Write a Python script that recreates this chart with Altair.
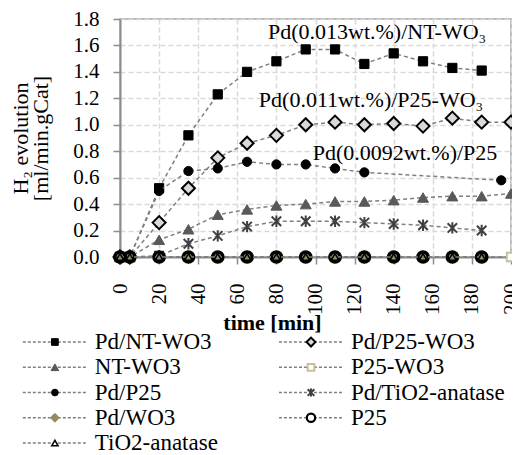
import altair as alt
import pandas as pd

# ---------------- data ----------------
TIME_FULL = [0, 5, 20, 35, 50, 65, 80, 95, 110, 125, 140, 155, 170, 185, 200]
TIME_185 = [0, 5, 20, 35, 50, 65, 80, 95, 110, 125, 140, 155, 170, 185]
TIME_PD_P25 = [0, 5, 20, 35, 50, 65, 80, 95, 110, 125, 195]

SERIES = ["Pd/NT-WO3", "Pd/P25-WO3", "NT-WO3", "P25-WO3", "Pd/P25",
          "Pd/TiO2-anatase", "Pd/WO3", "P25", "TiO2-anatase"]

V_PD_NTWO3 = [0, 0, 0.52, 0.92, 1.23, 1.40, 1.48, 1.57, 1.57, 1.46, 1.54, 1.48, 1.43, 1.41]
V_PD_P25WO3 = [0, 0, 0.26, 0.52, 0.75, 0.86, 0.92, 1.00, 1.02, 1.00, 1.01, 0.99, 1.05, 1.02, 1.02]
V_NTWO3 = [0, 0, 0.13, 0.21, 0.32, 0.36, 0.39, 0.40, 0.42, 0.42, 0.43, 0.45, 0.46, 0.46, 0.48]
V_P25WO3 = [0, 0, 0, 0, 0, 0, 0, 0, 0, 0, 0, 0, 0, 0, 0]
V_PD_P25 = [0, 0, 0.50, 0.65, 0.67, 0.72, 0.70, 0.70, 0.67, 0.64, 0.58]
V_PD_TIO2 = [0, 0, 0.01, 0.10, 0.16, 0.23, 0.27, 0.27, 0.27, 0.26, 0.25, 0.24, 0.22, 0.20]
V_PD_WO3 = [0, 0, 0, 0, 0, 0, 0, 0, 0, 0, 0, 0, 0, 0]
V_P25 = [0, 0, 0, 0, 0, 0, 0, 0, 0, 0, 0, 0, 0, 0]
V_TIO2 = [0, 0, 0, 0, 0, 0, 0, 0, 0, 0, 0, 0, 0, 0]

SERIES_DATA = {
    "Pd/NT-WO3": (TIME_185, V_PD_NTWO3),
    "Pd/P25-WO3": (TIME_FULL, V_PD_P25WO3),
    "NT-WO3": (TIME_FULL, V_NTWO3),
    "P25-WO3": (TIME_FULL, V_P25WO3),
    "Pd/P25": (TIME_PD_P25, V_PD_P25),
    "Pd/TiO2-anatase": (TIME_185, V_PD_TIO2),
    "Pd/WO3": (TIME_185, V_PD_WO3),
    "P25": (TIME_185, V_P25),
    "TiO2-anatase": (TIME_185, V_TIO2),
}

ANN_TEXT = ["Pd(0.013wt.%)/NT-WO\u2083", "Pd(0.011wt.%)/P25-WO\u2083", "Pd(0.0092wt.%)/P25"]
ANN_X = [131.5, 128.4, 145.8]
ANN_Y = [1.70, 1.19, 0.79]

LEG_COL = [0, 1, 0, 1, 0, 1, 0, 1, 0]
LEG_ROW = [0, 0, 1, 1, 2, 2, 3, 3, 4]

X_TICKS = [0, 20, 40, 60, 80, 100, 120, 140, 160, 180, 200]
Y_TICKS = [0.0, 0.2, 0.4, 0.6, 0.8, 1.0, 1.2, 1.4, 1.6, 1.8]

# legend layout (in the chart's own axis units, below the plot area)
LEG_X0, LEG_DX = -33.3, 131.0       # symbol centre of column 0, column step (minutes)
LEG_HALF, LEG_TXT = 16.4, 20.4      # half line length, text offset (minutes)
LEG_Y0, LEG_DY = -0.643, -0.191     # row 0 centre, row step (axis units)

# ---------------- styles ----------------
ASTERISK = "M-1,-1L1,1M-1,1L1,-1M0,-1.2L0,1.2"
STYLE = {
    "Pd/NT-WO3": dict(shape="square", filled=True, fill="#000000", stroke="#000000", sw=1, size=85, lsize=45),
    "Pd/P25-WO3": dict(shape="diamond", filled=True, fill="#d9d9d9", stroke="#000000", sw=2, size=170, lsize=80),
    "NT-WO3": dict(shape="triangle-up", filled=True, fill="#595959", stroke="#595959", sw=1, size=120, lsize=60),
    "P25-WO3": dict(shape="square", filled=True, fill="#ffffff", stroke="#c9bf9a", sw=2, size=70, lsize=45),
    "Pd/P25": dict(shape="circle", filled=True, fill="#000000", stroke="#000000", sw=1, size=85, lsize=45),
    "Pd/TiO2-anatase": dict(shape=ASTERISK, filled=False, fill="#404040", stroke="#404040", sw=2, size=90, lsize=45),
    "Pd/WO3": dict(shape="diamond", filled=True, fill="#958b5f", stroke="#958b5f", sw=1, size=150, lsize=80),
    "P25": dict(shape="circle", filled=False, fill="#000000", stroke="#000000", sw=3.5, size=105, lsize=70),
    "TiO2-anatase": dict(shape="triangle-up", filled=False, fill="#000000", stroke="#000000", sw=1.5, size=60, lsize=40),
}
LEG_SW = {"P25": 2.2}

FONT = "Liberation Serif"

rows = []
for s in SERIES:
    ts, vs = SERIES_DATA[s]
    for t, v in zip(ts, vs):
        rows.append({"series": s, "t": t, "v": v})
df = pd.DataFrame(rows)

ann_df = pd.DataFrame({"label": ANN_TEXT, "t": ANN_X, "v": ANN_Y})
leg_df = pd.DataFrame({"series": SERIES, "col": LEG_COL, "row": LEG_ROW})

AX_COMMON = dict(
    labelFontSize=21, labelOverlap=False, labelFont=FONT, labelFlush=False,
    tickSize=7, tickColor="#8c8c8c", tickWidth=1.5,
    domainColor="#8c8c8c", domainWidth=2,
    grid=True, gridColor="#d9d9d9", gridDash=[5, 3], gridWidth=1.5,
    labelColor="#000000", titleColor="#000000", titleFont=FONT,
)
X_AXIS = alt.Axis(
    values=X_TICKS, labelAngle=270, labelPadding=19,
    title="time [min]", titleFontSize=22, titleFontWeight="bold",
    titleX=152, titleY=72, titleBaseline="alphabetic", **AX_COMMON,
)
Y_AXIS = alt.Axis(
    values=Y_TICKS, format=".1f", labelPadding=14,
    title=["H\u2082 evolution", "[ml/min.gCat]"], titleFontSize=22,
    titleFontWeight="normal", titlePadding=20, titleLineHeight=20, **AX_COMMON,
)
X_SCALE = alt.Scale(domain=[0, 200], nice=False, zero=False)
Y_SCALE = alt.Scale(domain=[0, 1.8], nice=False, zero=False)


def xe(field):
    return alt.X(field, type="quantitative", scale=X_SCALE, axis=X_AXIS)


def ye(field):
    return alt.Y(field, type="quantitative", scale=Y_SCALE, axis=Y_AXIS)


layers = []
for s in SERIES:
    st = STYLE[s]
    sub = alt.Chart(df).transform_filter(alt.datum.series == s)
    layers.append(
        sub.mark_line(color="#808080", strokeDash=[4, 3], strokeWidth=1.5).encode(
            x=xe("t"), y=ye("v"), order="t:Q"
        )
    )
    layers.append(
        sub.mark_point(
            shape=st["shape"], filled=st["filled"], fill=st["fill"] if st["filled"] else "transparent",
            stroke=st["stroke"], strokeWidth=st["sw"], size=st["size"], opacity=1,
        ).encode(x=xe("t"), y=ye("v"))
    )

layers.append(
    alt.Chart(ann_df).mark_text(
        font=FONT, fontSize=22, color="#000000", align="center", baseline="middle"
    ).encode(x=xe("t"), y=ye("v"), text="label:N")
)

# ---------------- legend ----------------
lbase = alt.Chart(leg_df).transform_calculate(
    lx=f"{LEG_X0} + datum.col * {LEG_DX}",
    ly=f"{LEG_Y0} + datum.row * ({LEG_DY})",
).transform_calculate(
    lx1=f"datum.lx - {LEG_HALF}", lx2=f"datum.lx + {LEG_HALF}", tx=f"datum.lx + {LEG_TXT}"
)
layers.append(
    lbase.mark_rule(color="#808080", strokeDash=[3, 2], strokeWidth=1.5).encode(
        x=xe("lx1"), x2="lx2", y=ye("ly")
    )
)
for s in SERIES:
    st = STYLE[s]
    layers.append(
        lbase.transform_filter(alt.datum.series == s).mark_point(
            shape=st["shape"], filled=st["filled"], fill=st["fill"] if st["filled"] else "#ffffff",
            stroke=st["stroke"], strokeWidth=LEG_SW.get(s, st["sw"]), size=st["lsize"], opacity=1,
        ).encode(x=xe("lx"), y=ye("ly"))
    )
layers.append(
    lbase.mark_text(font=FONT, fontSize=23, color="#000000", align="left", baseline="middle").encode(
        x=xe("tx"), y=ye("ly"), text="series:N"
    )
)

chart = (
    alt.layer(*layers)
    .properties(
        width=391,
        height=238,
        autosize=alt.AutoSizeParams(type="none"),
        padding={"left": 112, "top": 11, "right": 1, "bottom": 198},
    )
    .configure(font=FONT)
    .configure_view(stroke="#a6a6a6", strokeWidth=1.5)
)

chart.save("out.html", embed_options={"renderer": "svg", "actions": False})
